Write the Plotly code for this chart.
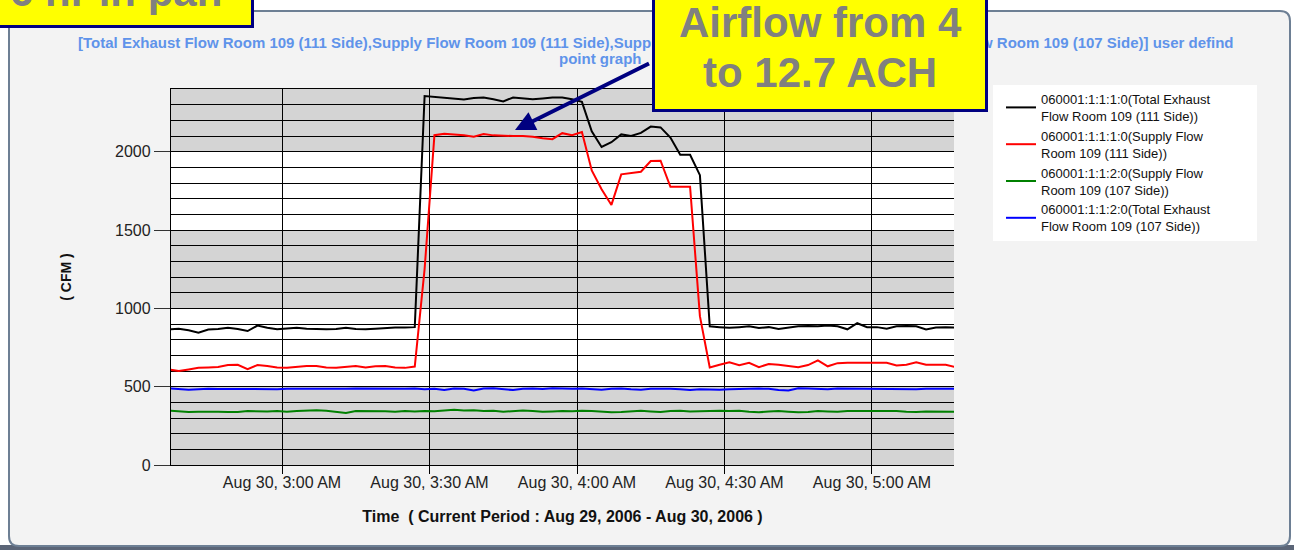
import plotly.graph_objects as go
import pandas as pd

# sample times: every 2 minutes, Aug 30 2006, 2:37 AM -> 5:17 AM
times = pd.date_range("2006-08-30 02:37", periods=81, freq="2min")

# CFM readings
exhaust_111 = [865, 870, 860, 845, 865, 868, 876, 868, 855, 890,
               876, 866, 872, 876, 870, 866, 866, 868, 876, 868,
               866, 870, 876, 878, 878, 880, 2355, 2350, 2345, 2340,
               2333, 2342, 2346, 2335, 2321, 2346, 2340, 2335, 2340, 2346,
               2345, 2335, 2318, 2130, 2030, 2060, 2110, 2100, 2120, 2160,
               2155, 2090, 1980, 1980, 1850, 885, 880, 876, 880, 885,
               874, 880, 868, 878, 885, 888, 885, 890, 885, 866,
               905, 880, 880, 870, 885, 888, 885, 865, 878, 880,
               878]
supply_111 = [609, 600, 610, 620, 622, 625, 638, 640, 612, 638,
              632, 622, 620, 628, 632, 632, 622, 620, 624, 632,
              622, 630, 632, 622, 620, 628, 1250, 2105, 2115, 2112,
              2105, 2096, 2112, 2104, 2100, 2100, 2100, 2095, 2085, 2080,
              2118, 2105, 2125, 1880, 1760, 1660, 1855, 1862, 1872, 1940,
              1942, 1776, 1776, 1776, 950, 622, 640, 655, 637, 652,
              625, 645, 640, 632, 624, 638, 668, 630, 650, 652,
              652, 652, 652, 652, 635, 640, 656, 640, 640, 640,
              625]
supply_107 = [348, 342, 338, 340, 342, 340, 338, 338, 344, 342,
              342, 344, 340, 345, 348, 350, 346, 340, 332, 344,
              345, 342, 343, 340, 344, 342, 345, 343, 346, 352,
              348, 350, 344, 346, 340, 346, 348, 344, 340, 342,
              345, 343, 346, 344, 340, 336, 338, 343, 346, 342,
              338, 344, 346, 341, 344, 343, 346, 344, 346, 340,
              336, 342, 344, 340, 336, 338, 344, 342, 340, 344,
              344, 346, 343, 342, 344, 340, 338, 342, 342, 340,
              340]
exhaust_107 = [490, 486, 480, 484, 487, 485, 484, 485, 484, 484,
               485, 484, 486, 487, 490, 487, 486, 484, 486, 489,
               488, 488, 487, 486, 486, 488, 484, 486, 478, 488,
               486, 476, 488, 490, 486, 478, 486, 488, 485, 490,
               488, 486, 489, 484, 480, 486, 488, 483, 480, 486,
               488, 486, 484, 478, 484, 482, 480, 484, 486, 484,
               488, 486, 478, 476, 490, 488, 486, 484, 488, 487,
               486, 485, 488, 487, 486, 485, 484, 486, 486, 487,
               486]

series_names = ["060001:1:1:1:0(Total Exhaust<br>Flow Room 109 (111 Side))",
                "060001:1:1:1:0(Supply Flow<br>Room 109 (111 Side))",
                "060001:1:1:2:0(Supply Flow<br>Room 109 (107 Side))",
                "060001:1:1:2:0(Total Exhaust<br>Flow Room 109 (107 Side))"]
series_colors = ["black", "red", "green", "blue"]

tick_times = ["2006-08-30 03:00", "2006-08-30 03:30", "2006-08-30 04:00",
              "2006-08-30 04:30", "2006-08-30 05:00"]
tick_labels = ["Aug 30, 3:00 AM", "Aug 30, 3:30 AM", "Aug 30, 4:00 AM",
               "Aug 30, 4:30 AM", "Aug 30, 5:00 AM"]
band_ranges = [(0, 500), (1000, 1500), (2000, 2400)]

# plot area in page pixels
L, R, T, B = 171, 954, 89, 465
W, H = 1294, 550


def px(x):
    return (x - L) / (R - L)


def py(y):
    return (B - y) / (B - T)


fig = go.Figure()
for vals, name, col in zip([exhaust_111, supply_111, supply_107, exhaust_107],
                           series_names, series_colors):
    fig.add_trace(go.Scatter(x=times, y=vals, mode="lines", name=name,
                             line=dict(color=col, width=2)))

shapes = []
# outer panel with rounded corners
x0, x1, y0, y1, r = px(9), px(1290), py(11), py(546), 10
rx, ry = r / (R - L), r / (B - T)
panel = (f"M {x0+rx},{y0} L {x1-rx},{y0} Q {x1},{y0} {x1},{y0-ry} "
         f"L {x1},{y1+ry} Q {x1},{y1} {x1-rx},{y1} L {x0+rx},{y1} "
         f"Q {x0},{y1} {x0},{y1+ry} L {x0},{y0-ry} Q {x0},{y0} {x0+rx},{y0} Z")
shapes.append(dict(type="rect", xref="paper", yref="paper", x0=px(0), x1=px(W),
                   y0=py(550), y1=py(545), fillcolor="#5b6577", line_width=0, layer="below"))
shapes.append(dict(type="path", xref="paper", yref="paper", path=panel,
                   fillcolor="#f3f3f3", line=dict(color="#6d7f94", width=2), layer="below"))
# white plot area and legend box
shapes.append(dict(type="rect", xref="paper", yref="paper", x0=0, x1=1, y0=0, y1=1,
                   fillcolor="white", line_width=0, layer="below"))
shapes.append(dict(type="rect", xref="paper", yref="paper", x0=px(993), x1=px(1257),
                   y0=py(241), y1=py(85), fillcolor="white", line_width=0, layer="below"))
# grey bands behind the grid
for lo, hi in band_ranges:
    shapes.append(dict(type="rect", xref="paper", yref="y", x0=0, x1=1, y0=lo, y1=hi,
                       fillcolor="#d4d4d4", line_width=0, layer="below"))

title_font = dict(family="Liberation Sans", size=15, color="#5f93ea")
big_font = dict(family="Liberation Sans", size=42, color="#808080")
annotations = [
    dict(text="<b>[Total Exhaust Flow Room 109 (111 Side),Supply Flow Room 109 (111 Side),"
              "Supply Flow Room 109 (107 Side),Total Exhaust Flow Room 109 (107 Side)] user defind</b>",
         x=px(656), y=py(43), xref="paper", yref="paper", showarrow=False,
         xanchor="center", yanchor="middle", font=title_font),
    dict(text="<b>point graph</b>", x=px(557), y=py(58), xref="paper", yref="paper",
         showarrow=False, xanchor="left", yanchor="middle", font=title_font),
    # top-left callout (mostly off page)
    dict(text=" ", x=px(111), y=py(-2), xref="paper", yref="paper", showarrow=False,
         xanchor="center", yanchor="middle",
         width=279, height=53, bgcolor="yellow", bordercolor="#000080", borderwidth=3,
         borderpad=0),
    dict(text="<b>6 hr in pan</b>", x=px(224), y=py(-8), xref="paper", yref="paper",
         showarrow=False, xanchor="right", yanchor="middle", font=big_font),
    # arrow
    dict(text=" ", x=px(515), y=py(130), xref="paper", yref="paper", showarrow=True,
         ax=137, ay=-68, arrowhead=2, arrowsize=1, arrowwidth=4, arrowcolor="#000080",
         standoff=0),
    # big callout
    dict(text=" ", x=px(820), y=py(40), xref="paper", yref="paper", showarrow=False,
         xanchor="center", yanchor="middle",
         width=330, height=137, bgcolor="yellow", bordercolor="#000080", borderwidth=3,
         borderpad=0),
    dict(text="<b>Airflow from 4</b>", x=px(820), y=py(22), xref="paper", yref="paper",
         showarrow=False, xanchor="center", yanchor="middle", font=big_font),
    dict(text="<b>to 12.7 ACH</b>", x=px(820), y=py(72), xref="paper", yref="paper",
         showarrow=False, xanchor="center", yanchor="middle", font=big_font),
]

fig.update_layout(
    width=W, height=H,
    margin=dict(l=L, r=W - R, t=T, b=H - B),
    paper_bgcolor="white", plot_bgcolor="white",
    font=dict(family="Liberation Sans", color="#222222"),
    shapes=shapes, annotations=annotations,
    legend=dict(x=px(1001), y=py(84), xanchor="left", yanchor="top",
                bgcolor="rgba(0,0,0,0)", font=dict(size=13, color="#111111"),
                tracegroupgap=0),
    xaxis=dict(type="date", range=["2006-08-30 02:37:25", "2006-08-30 05:16:41"],
               tickvals=tick_times, ticktext=tick_labels,
               showgrid=True, gridcolor="black", gridwidth=1.3,
               ticks="outside", ticklen=8, tickcolor="black", tickwidth=1.3,
               showline=True, linecolor="black", linewidth=1.3, mirror=True,
               zeroline=False, tickfont=dict(size=16), ticklabelstandoff=-5,
               title=dict(text="<b>Time&nbsp; ( Current Period : Aug 29, 2006 - Aug 30, 2006 )</b>",
                          font=dict(size=16, color="#111111"), standoff=20)),
    yaxis=dict(range=[0, 2400], tickmode="linear", tick0=0, dtick=500,
               showgrid=True, gridcolor="black", gridwidth=1.3,
               minor=dict(dtick=100, showgrid=True, gridcolor="black", gridwidth=1.3),
               ticks="outside", ticklen=16, tickcolor="#333333", tickwidth=1.3,
               showline=True, linecolor="black", linewidth=1.3,
               zeroline=False, tickfont=dict(size=16),
               title=dict(text="<b>( CFM )</b>", font=dict(size=14, color="#111111"),
                          standoff=40)),
)

fig.write_html("out.html", config={"displayModeBar": False},
               post_script="document.body.style.margin='0';")
